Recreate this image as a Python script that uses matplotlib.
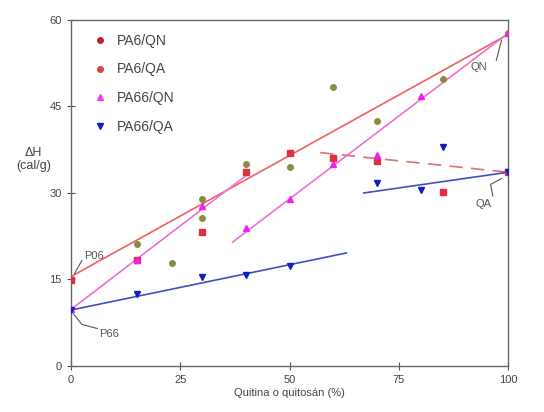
import numpy as np
import matplotlib
matplotlib.use('Agg')
import matplotlib.pyplot as plt
from matplotlib.lines import Line2D

plt.rcParams['font.family'] = ['Liberation Sans', 'DejaVu Sans']

# PA6/QN
x_pa6_qn = [15, 23, 30, 30, 40, 50, 60, 70, 85, 100]
y_pa6_qn = [21.1, 17.8, 28.9, 25.6, 35.0, 34.5, 48.3, 42.5, 49.7, 57.7]
# PA6/QA
x_pa6_qa = [0, 15, 30, 40, 50, 60, 70, 85, 100]
y_pa6_qa = [14.9, 18.4, 23.2, 33.6, 36.9, 36.0, 35.5, 30.2, 33.6]
# PA66/QN
x_pa66_qn = [0, 15, 30, 40, 50, 60, 70, 80, 100]
y_pa66_qn = [9.8, 18.3, 27.7, 23.9, 29.0, 35.0, 36.6, 46.8, 57.7]
# PA66/QA
x_pa66_qa = [0, 15, 30, 40, 50, 70, 80, 85, 100]
y_pa66_qa = [9.7, 12.5, 15.4, 15.8, 17.3, 31.7, 30.5, 38.0, 33.6]

# trend lines (start, end)
red_line = ([0, 100], [15.5, 57.5])
red_dash = ([57, 100], [37.0, 33.6])
pink_line1 = ([0, 40], [9.8, 33.0])
pink_line2 = ([37, 100], [21.5, 57.7])
blue_line1 = ([0, 63], [9.7, 19.6])
blue_line2 = ([67, 100], [30.0, 33.6])

fig = plt.figure(figsize=(5.44, 4.12), dpi=100)
ax = fig.add_axes([0.1305, 0.1117, 0.8035, 0.8398])

ax.plot(*red_line, color='#f06060', lw=1.2, zorder=2)
ax.plot(*red_dash, color='#e07070', lw=1.2, dashes=(8, 5), zorder=2)
ax.plot(*pink_line1, color='#f070d0', lw=1.2, zorder=2)
ax.plot(*pink_line2, color='#f070d0', lw=1.2, zorder=2)
ax.plot(*blue_line1, color='#4050c0', lw=1.2, zorder=2)
ax.plot(*blue_line2, color='#4050c0', lw=1.2, zorder=2)

ax.plot(x_pa6_qn, y_pa6_qn, 'o', color='#8a8a40', ms=4, zorder=3)
ax.plot(x_pa6_qa, y_pa6_qa, 's', color='#e03040', ms=4, zorder=3)
ax.plot(x_pa66_qn, y_pa66_qn, '^', color='#f020f0', ms=5, zorder=3)
ax.plot(x_pa66_qa, y_pa66_qa, 'v', color='#1020c0', ms=5, zorder=3)

handles = [
    Line2D([], [], ls='', marker='o', color='#c02030', ms=4),
    Line2D([], [], ls='', marker='o', color='#e04040', ms=4),
    Line2D([], [], ls='', marker='^', color='#f040f0', ms=4),
    Line2D([], [], ls='', marker='v', color='#1020c0', ms=4),
]
ax.legend(handles, ['PA6/QN', 'PA6/QA', 'PA66/QN', 'PA66/QA'], loc='upper left',
          bbox_to_anchor=(0.015, 1.0), frameon=False, fontsize=10,
          labelspacing=1.05, handletextpad=0.6, handlelength=1.2,
          borderaxespad=0.6, labelcolor='#444444')

# annotations
tc = '#555555'
ax.text(3, 18.5, 'P06', fontsize=8, color=tc)
ax.plot([0.8, 2.5], [16.0, 18.3], color=tc, lw=0.8)
ax.text(6.5, 5.0, 'P66', fontsize=8, color=tc)
ax.plot([0.6, 2.5, 6.0], [9.0, 7.2, 6.5], color=tc, lw=0.8)
ax.text(91.5, 51.3, 'QN', fontsize=8, color=tc)
ax.plot([98.5, 97.3], [56.5, 53.0], color=tc, lw=0.8)
ax.text(92.5, 27.5, 'QA', fontsize=8, color=tc)
ax.plot([96.5, 96.0, 98.5], [29.5, 31.5, 32.5], color=tc, lw=0.8)

ax.set_xlim(0, 100)
ax.set_ylim(0, 60)
ax.set_xticks([0, 25, 50, 75, 100])
ax.set_yticks([0, 15, 30, 45, 60])
ax.tick_params(direction='inout', length=6, width=0.8, colors='#555555',
               labelsize=8, labelcolor='#444444')
for s in ax.spines.values():
    s.set_color('#666666')
    s.set_linewidth(1.0)

ax.set_xlabel('Quitina o quitosán (%)', fontsize=8, color='#444444', labelpad=2)
fig.text(0.062, 0.612, 'ΔH\n(cal/g)', fontsize=9, color='#444444',
         ha='center', va='center', linespacing=1.1)

fig.savefig('out.png', dpi=100)
